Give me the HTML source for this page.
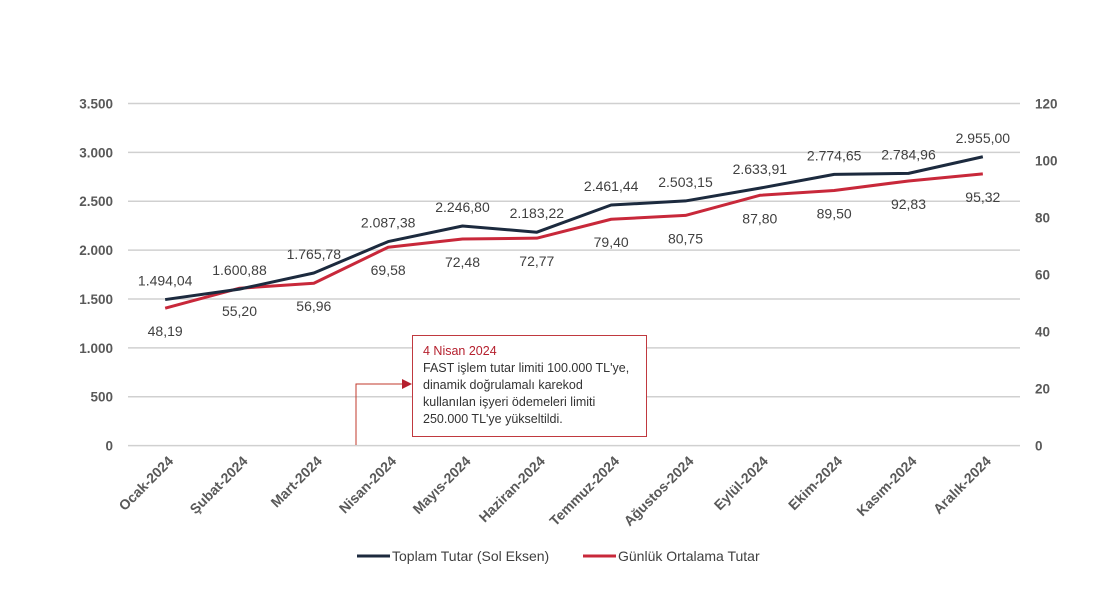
<!DOCTYPE html>
<html><head><meta charset="utf-8"><style>
body{margin:0;background:#fff;}
svg text{font-family:"Liberation Sans",sans-serif;}
</style></head><body>
<svg id="chart" width="1110" height="608" xmlns="http://www.w3.org/2000/svg"></svg>
<script>
const categories=["Ocak-2024","Şubat-2024","Mart-2024","Nisan-2024","Mayıs-2024","Haziran-2024","Temmuz-2024","Ağustos-2024","Eylül-2024","Ekim-2024","Kasım-2024","Aralık-2024"];
const totalValues=[1494.04,1600.88,1765.78,2087.38,2246.80,2183.22,2461.44,2503.15,2633.91,2774.65,2784.96,2955.00];
const totalLabels=["1.494,04","1.600,88","1.765,78","2.087,38","2.246,80","2.183,22","2.461,44","2.503,15","2.633,91","2.774,65","2.784,96","2.955,00"];
const dailyValues=[48.19,55.20,56.96,69.58,72.48,72.77,79.40,80.75,87.80,89.50,92.83,95.32];
const dailyLabels=["48,19","55,20","56,96","69,58","72,48","72,77","79,40","80,75","87,80","89,50","92,83","95,32"];
const leftTicks=[0,500,1000,1500,2000,2500,3000,3500];
const leftTickLabels=["0","500","1.000","1.500","2.000","2.500","3.000","3.500"];
const rightTicks=[0,20,40,60,80,100,120];

const svg=document.getElementById('chart');
const NS="http://www.w3.org/2000/svg";
const X0=128,X1=1020,Y0=445.6,Y1=103.5;
const bw=(X1-X0)/categories.length;
const xs=i=>X0+bw/2+i*bw;
const yL=v=>Y0-(v/3500)*(Y0-Y1);
const yR=v=>Y0-(v/120)*(Y0-Y1);
function el(tag,a,parent){const e=document.createElementNS(NS,tag);for(const k in a)e.setAttribute(k,a[k]);(parent||svg).appendChild(e);return e;}
function tx(x,y,s,a){const t=el('text',Object.assign({x:x,y:y},a));t.textContent=s;return t;}

leftTicks.forEach((v,i)=>{
  const l=el('line',{x1:X0,x2:X1,y1:yL(v),y2:yL(v),stroke:'#d0d0d0','stroke-width':1.5});
  
  
  const t=tx(113,yL(v)+5,leftTickLabels[i],{'text-anchor':'end','font-size':13.5,'font-weight':'bold',fill:'#595959'});
  
  
});
rightTicks.forEach(v=>{
  const t=tx(1035,yR(v)+5,String(v),{'text-anchor':'start','font-size':13.5,'font-weight':'bold',fill:'#595959'});
  
  
});
categories.forEach((c,i)=>{
  const t=tx(0,0,c,{'text-anchor':'end','font-size':14,'font-weight':'bold',fill:'#595959',transform:`translate(${xs(i)+9},${462}) rotate(-45)`});
  
  
});

// annotation
const ax=356;
const a1=el('polyline',{points:`${ax},445 ${ax},384 ${408},384`,fill:'none',stroke:'#c0392b','stroke-width':1});


el('polygon',{points:`412,384 402,379 402,389`,fill:'#b5202e'});
const box=el('rect',{x:412.5,y:335.5,width:234,height:101,fill:'#fff',stroke:'#c0393f','stroke-width':1});


const an=tx(423,355,"4 Nisan 2024",{'font-size':12.5,fill:'#b5202e'});


["FAST işlem tutar limiti 100.000 TL'ye,","dinamik doğrulamalı karekod","kullanılan işyeri ödemeleri limiti","250.000 TL'ye yükseltildi."].forEach((s,i)=>{
  const t=tx(423,372+i*17,s,{'font-size':12.5,fill:'#333'});
  
  
});

const rl=el('polyline',{points:dailyValues.map((v,i)=>xs(i)+','+yR(v)).join(' '),fill:'none',stroke:'#c8283a','stroke-width':3,'stroke-linejoin':'round'});


const dl=el('polyline',{points:totalValues.map((v,i)=>xs(i)+','+yL(v)).join(' '),fill:'none',stroke:'#1c2a3e','stroke-width':3,'stroke-linejoin':'round'});



totalValues.forEach((v,i)=>{
  const t=tx(xs(i),yL(v)-14,totalLabels[i],{'text-anchor':'middle','font-size':14,fill:'#404040'});
  
  
});
dailyValues.forEach((v,i)=>{
  const t=tx(xs(i),yR(v)+28,dailyLabels[i],{'text-anchor':'middle','font-size':14,fill:'#404040'});
  
  
});

// legend
const lg1=el('line',{x1:357,x2:390,y1:556,y2:556,stroke:'#1c2a3e','stroke-width':3});


const lt1=tx(392,561,"Toplam Tutar (Sol Eksen)",{'font-size':14,fill:'#404040'});


const lg2=el('line',{x1:583,x2:616,y1:556,y2:556,stroke:'#c8283a','stroke-width':3});


const lt2=tx(618,561,"Günlük Ortalama Tutar",{'font-size':14,fill:'#404040'});


</script>
</body></html>
